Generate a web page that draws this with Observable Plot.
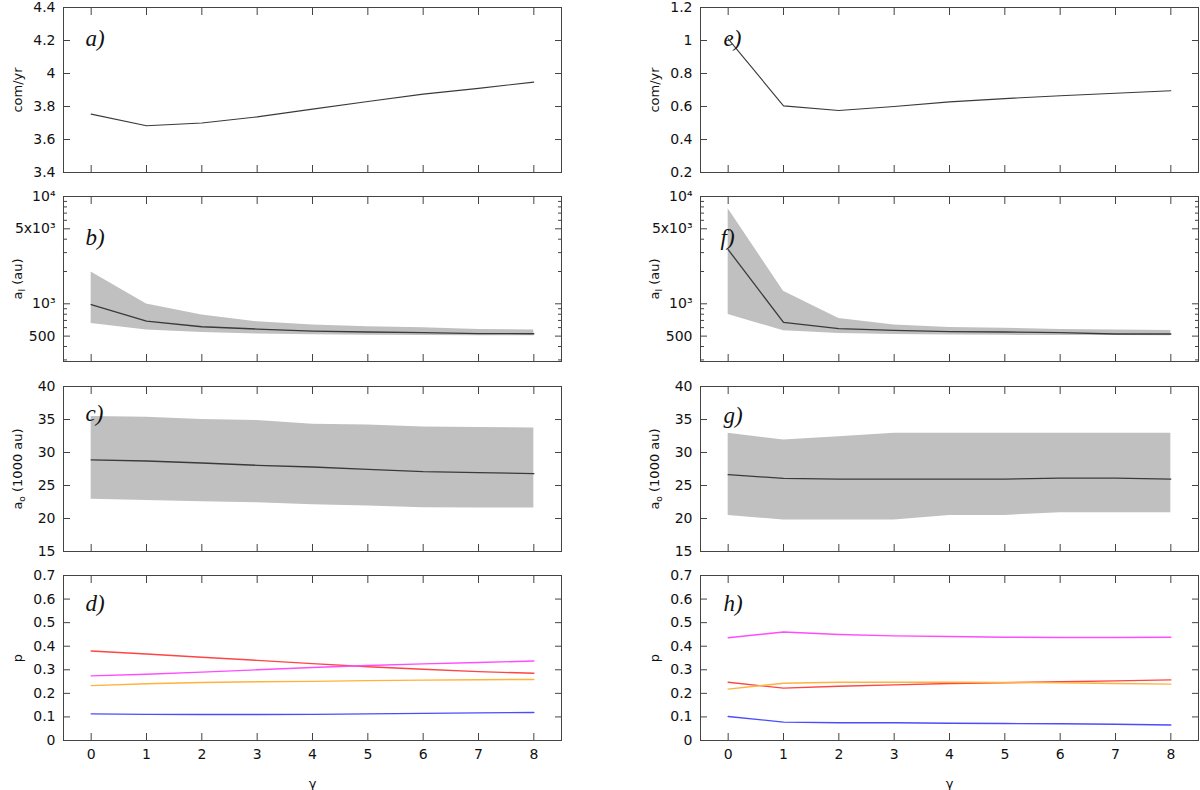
<!DOCTYPE html>
<html>
<head>
<meta charset="utf-8">
<script src="https://cdn.jsdelivr.net/npm/d3@7"></script>
<script src="https://cdn.jsdelivr.net/npm/@observablehq/plot@0.6"></script>
<style>
  body { margin: 0; background: #fff; }
  #fig { position: relative; width: 1200px; height: 790px; overflow: hidden; }
  #fig svg { position: absolute; overflow: visible; }
</style>
</head>
<body>
<div id="fig"></div>
<script>
// gamma values on the x axis
const gamma = [0, 1, 2, 3, 4, 5, 6, 7, 8];

// a) / e) comets per year
const rateLeft = [3.754, 3.683, 3.700, 3.737, 3.784, 3.830, 3.875, 3.910, 3.948];
const rateRight = [1.01, 0.604, 0.576, 0.600, 0.628, 0.648, 0.665, 0.680, 0.695];

// b) / f) inner semi-major axis (au), median and spread
const innerMidLeft = [985, 690, 611, 582, 557, 546, 540, 527, 526];
const innerHiLeft = [1983, 994, 785, 681, 634, 611, 599, 577, 569];
const innerLoLeft = [656, 569, 540, 523, 516, 510, 506, 503, 503];
const innerMidRight = [3200, 671, 587, 565, 550, 546, 538, 523, 523];
const innerHiRight = [7680, 1312, 731, 634, 603, 592, 577, 569, 565];
const innerLoRight = [796, 561, 530, 519, 512, 508, 506, 506, 503];

// c) / g) outer semi-major axis (1000 au)
const outerMidLeft = [28.87, 28.71, 28.41, 28.06, 27.80, 27.45, 27.10, 26.94, 26.80];
const outerHiLeft = [35.45, 35.35, 34.99, 34.84, 34.28, 34.18, 33.88, 33.78, 33.72];
const outerLoLeft = [22.90, 22.74, 22.54, 22.39, 22.08, 21.88, 21.63, 21.58, 21.58];
const outerMidRight = [26.64, 26.08, 25.98, 25.98, 25.98, 25.98, 26.13, 26.13, 25.98];
const outerHiRight = [32.91, 31.90, 32.40, 32.91, 32.91, 32.91, 32.91, 32.91, 32.91];
const outerLoRight = [20.47, 19.76, 19.76, 19.76, 20.47, 20.47, 20.87, 20.87, 20.87];

// d) / h) probabilities
const pRedLeft = [0.380, 0.367, 0.353, 0.340, 0.326, 0.313, 0.302, 0.292, 0.285];
const pMagentaLeft = [0.274, 0.281, 0.290, 0.300, 0.310, 0.318, 0.325, 0.331, 0.337];
const pOrangeLeft = [0.233, 0.241, 0.246, 0.249, 0.251, 0.254, 0.256, 0.258, 0.259];
const pBlueLeft = [0.113, 0.111, 0.110, 0.110, 0.111, 0.113, 0.115, 0.117, 0.119];
const pRedRight = [0.247, 0.222, 0.230, 0.236, 0.242, 0.245, 0.249, 0.253, 0.257];
const pMagentaRight = [0.436, 0.460, 0.450, 0.444, 0.441, 0.438, 0.437, 0.437, 0.438];
const pOrangeRight = [0.218, 0.243, 0.247, 0.247, 0.247, 0.246, 0.245, 0.242, 0.239];
const pBlueRight = [0.102, 0.078, 0.075, 0.075, 0.073, 0.072, 0.071, 0.069, 0.066];

// tick values
const rateTicksLeft = [3.4, 3.6, 3.8, 4, 4.2, 4.4];
const rateTicksRight = [0.2, 0.4, 0.6, 0.8, 1, 1.2];
const innerTicks = [500, 1000, 5000, 10000];
const innerTickLabels = ["500", "10³", "5x10³", "10⁴"];
const innerMinorTicks = [300, 400, 600, 700, 800, 900, 2000, 3000, 4000, 6000, 7000, 8000, 9000];
const outerTicks = [15, 20, 25, 30, 35, 40];
const pTicks = [0, 0.1, 0.2, 0.3, 0.4, 0.5, 0.6, 0.7];

const colors = {red: "#ff4444", magenta: "#ff4cff", orange: "#ffb23c", blue: "#4c4cff"};

const FRAME_H = 165;
const rowTops = [7, 196, 386, 575];
const cols = [
  {left: 0, ml: 63, mr: 39},
  {left: 600, ml: 100, mr: 2}
];

function band(lo, hi, mid) {
  return [
    Plot.areaY(gamma, {x: gamma, y1: lo, y2: hi, fill: "#c0c0c0"}),
    Plot.lineY(gamma, {x: gamma, y: mid, stroke: "#3a3a3a", strokeWidth: 1.3})
  ];
}

function pLines(red, magenta, orange, blue) {
  return [
    Plot.lineY(gamma, {x: gamma, y: red, stroke: colors.red, strokeWidth: 1.4}),
    Plot.lineY(gamma, {x: gamma, y: magenta, stroke: colors.magenta, strokeWidth: 1.4}),
    Plot.lineY(gamma, {x: gamma, y: orange, stroke: colors.orange, strokeWidth: 1.4}),
    Plot.lineY(gamma, {x: gamma, y: blue, stroke: colors.blue, strokeWidth: 1.4})
  ];
}

function panel({col, row, tag, tagDx, tagDy, marks, y, yTicks, yFormat, minor, labelParts, bottom}) {
  const c = cols[col];
  const mt = 8, mb = bottom ? 54 : 8;
  const chart = Plot.plot({
    width: 600,
    height: FRAME_H + mt + mb,
    marginLeft: c.ml,
    marginRight: c.mr,
    marginTop: mt,
    marginBottom: mb,
    style: {fontFamily: "DejaVu Sans", fontSize: "14px", color: "#111", background: "transparent"},
    x: {domain: [-0.5, 8.5], label: null},
    y: {...y, label: null},
    marks: [
      ...marks,
      Plot.frame({stroke: "#444"}),
      Plot.axisX({anchor: "bottom", ticks: gamma, tickSize: -7, tickFormat: () => "", label: null, stroke: "#444"}),
      Plot.axisX({anchor: "top", ticks: gamma, tickSize: -7, tickFormat: () => "", label: null, stroke: "#444"}),
      bottom ? Plot.axisX({anchor: "bottom", ticks: gamma, tickSize: 0, tickPadding: 9, tickFormat: d => String(d),
        label: "γ", labelAnchor: "center", labelOffset: 47, labelArrow: "none"}) : null,
      Plot.axisY({anchor: "left", ticks: yTicks, tickSize: -7, tickFormat: () => "", label: null, stroke: "#444"}),
      Plot.axisY({anchor: "right", ticks: yTicks, tickSize: -7, tickFormat: () => "", label: null, stroke: "#444"}),
      minor ? Plot.axisY({anchor: "left", ticks: minor, tickSize: -4, tickFormat: () => "", label: null, stroke: "#444"}) : null,
      minor ? Plot.axisY({anchor: "right", ticks: minor, tickSize: -4, tickFormat: () => "", label: null, stroke: "#444"}) : null,
      Plot.axisY({anchor: "left", ticks: yTicks, tickSize: 0, tickPadding: 8, tickFormat: yFormat,
        label: "y", labelAnchor: "center", labelOffset: 51, labelArrow: "none"}),
      Plot.text([tag], {frameAnchor: "top-left", dx: tagDx, dy: tagDy, text: d => d, textAnchor: "start", lineAnchor: "middle",
        fontFamily: "Liberation Serif", fontStyle: "italic", fontSize: 23, fill: "#111"})
    ]
  });
  chart.style.left = c.left + "px";
  chart.style.top = (rowTops[row] - mt) + "px";

  // rebuild the y label so subscripts can be shown
  const t = d3.select(chart).select('g[aria-label="y-axis label"] text').attr("font-size", 13);
  t.text(null);
  let prevSub = false;
  labelParts.forEach(([s, sub]) => {
    const span = t.append("tspan").text(s);
    if (sub) span.attr("font-size", 9).attr("dy", 3);
    else if (prevSub) span.attr("dy", -3);
    prevSub = sub;
  });
  d3.select(chart).select('g[aria-label="x-axis label"] text').attr("font-size", 13);
  document.getElementById("fig").appendChild(chart);
}

const fmt = d => String(d);
const innerFmt = d => innerTickLabels[innerTicks.indexOf(d)];
const rateLabel = [["com/yr", false]];
const innerLabel = [["a", false], ["I", true], [" (au)", false]];
const outerLabel = [["a", false], ["o", true], [" (1000 au)", false]];
const pLabel = [["p", false]];

// left column
panel({col: 0, row: 0, tag: "a)", tagDx: 22, tagDy: 31, y: {domain: [3.4, 4.4]}, yTicks: rateTicksLeft, yFormat: fmt,
  labelParts: rateLabel, marks: [Plot.lineY(gamma, {x: gamma, y: rateLeft, stroke: "#3a3a3a", strokeWidth: 1.1})]});
panel({col: 0, row: 1, tag: "b)", tagDx: 22, tagDy: 41, y: {type: "log", domain: [290, 10000]}, yTicks: innerTicks, yFormat: innerFmt,
  minor: innerMinorTicks, labelParts: innerLabel, marks: band(innerLoLeft, innerHiLeft, innerMidLeft)});
panel({col: 0, row: 2, tag: "c)", tagDx: 22, tagDy: 27, y: {domain: [15, 40]}, yTicks: outerTicks, yFormat: fmt,
  labelParts: outerLabel, marks: band(outerLoLeft, outerHiLeft, outerMidLeft)});
panel({col: 0, row: 3, tag: "d)", tagDx: 22, tagDy: 28, y: {domain: [0, 0.7]}, yTicks: pTicks, yFormat: fmt, bottom: true,
  labelParts: pLabel, marks: pLines(pRedLeft, pMagentaLeft, pOrangeLeft, pBlueLeft)});

// right column
panel({col: 1, row: 0, tag: "e)", tagDx: 23, tagDy: 31, y: {domain: [0.2, 1.2]}, yTicks: rateTicksRight, yFormat: fmt,
  labelParts: rateLabel, marks: [Plot.lineY(gamma, {x: gamma, y: rateRight, stroke: "#3a3a3a", strokeWidth: 1.1})]});
panel({col: 1, row: 1, tag: "f)", tagDx: 20, tagDy: 41, y: {type: "log", domain: [290, 10000]}, yTicks: innerTicks, yFormat: innerFmt,
  minor: innerMinorTicks, labelParts: innerLabel, marks: band(innerLoRight, innerHiRight, innerMidRight)});
panel({col: 1, row: 2, tag: "g)", tagDx: 23, tagDy: 29, y: {domain: [15, 40]}, yTicks: outerTicks, yFormat: fmt,
  labelParts: outerLabel, marks: band(outerLoRight, outerHiRight, outerMidRight)});
panel({col: 1, row: 3, tag: "h)", tagDx: 23, tagDy: 28, y: {domain: [0, 0.7]}, yTicks: pTicks, yFormat: fmt, bottom: true,
  labelParts: pLabel, marks: pLines(pRedRight, pMagentaRight, pOrangeRight, pBlueRight)});
</script>
</body>
</html>
